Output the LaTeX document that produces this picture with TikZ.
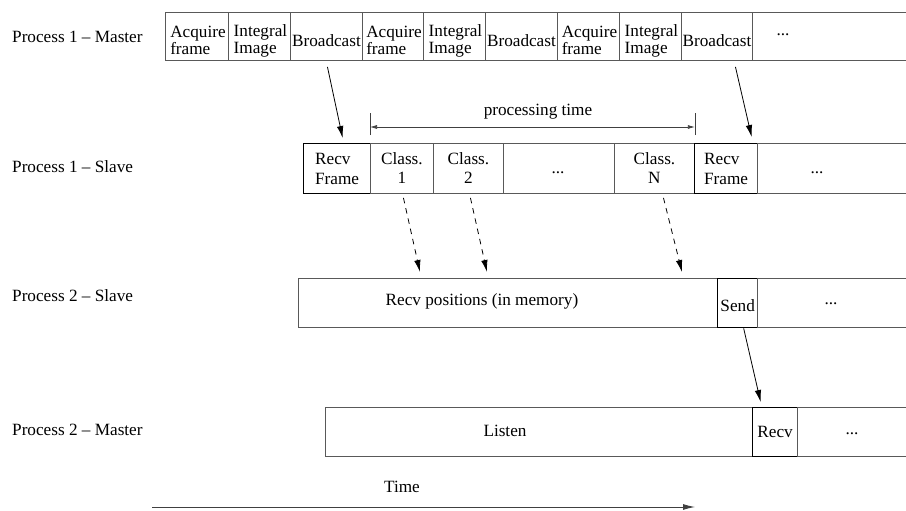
\documentclass[tikz,border=0pt]{standalone}
\usepackage{fontspec}
\setmainfont{Liberation Serif}
\usetikzlibrary{arrows.meta}
\begin{document}
\begin{tikzpicture}[x=1pt,y=-1pt,
  font=\fontsize{17.2}{17}\selectfont,
  cell/.style={draw=black!65, line width=0.9pt, inner sep=0pt, anchor=north west},
  hot/.style={draw=black, line width=1.3pt},
  txt/.style={inner sep=0pt, align=left},
  ctxt/.style={inner sep=0pt, align=center},
  dots/.style={inner sep=0pt, anchor=base},
  lbl/.style={inner sep=0pt, anchor=west},
  flow/.style={-{Latex[length=12pt,width=6.5pt]}, line width=0.8pt},
  msg/.style={-{Latex[length=12pt,width=6.5pt]}, line width=0.8pt, dash pattern=on 5.5pt off 5pt},
  span/.style={{Latex[length=7pt,width=4pt]}-{Latex[length=7pt,width=4pt]}, line width=0.7pt, draw=black!75},
  axis/.style={-{Latex[length=12pt,width=6pt]}, line width=0.9pt, draw=black!75}
]
\useasboundingbox (0,0) rectangle (906,511);

% process labels
\node[lbl] (l1) at (12,37)  {Process 1 -- Master};
\node[lbl] (l2) at (12,167) {Process 1 -- Slave};
\node[lbl] (l3) at (12,296) {Process 2 -- Slave};
\node[lbl] (l4) at (12,430) {Process 2 -- Master};

% Process 1 - Master
\begin{scope}[every node/.append style={minimum height=48pt}]
\node[cell, minimum width=63pt] (m1) at (165,12) {};
\node[cell, minimum width=62pt] (m2) at (228,12) {};
\node[cell, minimum width=72pt] (m3) at (290,12) {};
\node[cell, minimum width=61pt] (m4) at (362,12) {};
\node[cell, minimum width=62pt] (m5) at (423,12) {};
\node[cell, minimum width=72pt] (m6) at (485,12) {};
\node[cell, minimum width=62pt] (m7) at (557,12) {};
\node[cell, minimum width=62pt] (m8) at (619,12) {};
\node[cell, minimum width=71pt] (m9) at (681,12) {};
\node[cell, minimum width=160pt] (m10) at (752,12) {};
\end{scope}
\node[txt] (m1t) at ([xshift=1pt,yshift=-4pt]m1.center) {Acquire\\frame};
\node[txt] (m2t) at ([xshift=1pt,yshift=-4pt]m2.center) {Integral\\Image};
\node[txt] (m3t) at ([yshift=-4pt]m3.center) {Broadcast};
\node[txt] (m4t) at ([xshift=1pt,yshift=-4pt]m4.center) {Acquire\\frame};
\node[txt] (m5t) at ([xshift=1pt,yshift=-4pt]m5.center) {Integral\\Image};
\node[txt] (m6t) at ([yshift=-4pt]m6.center) {Broadcast};
\node[txt] (m7t) at ([xshift=1pt,yshift=-4pt]m7.center) {Acquire\\frame};
\node[txt] (m8t) at ([xshift=1pt,yshift=-4pt]m8.center) {Integral\\Image};
\node[txt] (m9t) at ([yshift=-4pt]m9.center) {Broadcast};
\node[dots] (m10t) at (783,36) {...};

% Process 1 - Slave
\begin{scope}[every node/.append style={minimum height=50pt}]
\node[cell, hot, minimum width=67pt] (s1) at (303,143) {};
\node[cell, minimum width=63pt] (s2) at (370,143) {};
\node[cell, minimum width=70pt] (s3) at (433,143) {};
\node[cell, minimum width=111pt] (s4) at (503,143) {};
\node[cell, minimum width=80pt] (s5) at (614,143) {};
\node[cell, hot, minimum width=63pt] (s6) at (694,143) {};
\node[cell, minimum width=155pt] (s7) at (757,143) {};
\end{scope}
\node[txt] (s1t) at (s1.center) {Recv\\[3pt]Frame};
\node[ctxt] (s2t) at (s2.center) {Class.\\[2pt]1};
\node[ctxt] (s3t) at (s3.center) {Class.\\[2pt]2};
\node[dots] (s4t) at (558,173) {...};
\node[ctxt] (s5t) at (s5.center) {Class.\\[2pt]N};
\node[txt] (s6t) at (s6.center) {Recv\\[3pt]Frame};
\node[dots] (s7t) at (817,173) {...};

% processing time span
\draw[line width=0.7pt, draw=black!75] ([yshift=8pt]s2.north west) -- ++(0,-22);
\draw[line width=0.7pt, draw=black!75] ([yshift=8pt]s5.north east) -- ++(0,-22);
\draw[span] ([yshift=16pt]s2.north west) -- ([yshift=16pt]s5.north east);
\node[ctxt] (pt) at (538,112) {processing time};

% Process 2 - Slave
\begin{scope}[every node/.append style={minimum height=49pt}]
\node[cell, minimum width=419pt] (r1) at (298,278) {};
\node[cell, hot, minimum width=40pt] (r2) at (717,278) {};
\node[cell, minimum width=155pt] (r3) at (757,278) {};
\end{scope}
\node[ctxt] (r1t) at (482,301) {Recv positions (in memory)};
\node[ctxt] (r2t) at ([yshift=-2pt]r2.center) {Send};
\node[dots] (r3t) at (831,304) {...};

% Process 2 - Master
\begin{scope}[every node/.append style={minimum height=49pt}]
\node[cell, minimum width=427pt] (q1) at (325,407) {};
\node[cell, hot, minimum width=45pt] (q2) at (752,407) {};
\node[cell, minimum width=115pt] (q3) at (797,407) {};
\end{scope}
\node[ctxt] (q1t) at (505,431) {Listen};
\node[ctxt] (q2t) at (q2.center) {Recv};
\node[dots] (q3t) at (852,434) {...};

% frame broadcasts
\draw[flow] ([xshift=1pt,yshift=-6pt]m3.south) -- ([xshift=5.5pt,yshift=5pt]s1.north);
\draw[flow] ([xshift=18.5pt,yshift=-6pt]m9.south) -- ([xshift=25.5pt,yshift=6pt]s6.north);

% classifier results
\draw[msg] ([xshift=1.5pt,yshift=-4pt]s2.south) -- ([xshift=122pt,yshift=6pt]r1.north west);
\draw[msg] ([xshift=2pt,yshift=-4pt]s3.south) -- ([xshift=189pt,yshift=6pt]r1.north west);
\draw[msg] ([xshift=9pt,yshift=-4pt]s5.south) -- ([xshift=384pt,yshift=6pt]r1.north west);

% results to master
\draw[flow] ([xshift=6pt]r2.south) -- ([xshift=-14.5pt,yshift=5pt]q2.north);

% time axis
\coordinate (t0) at (152,507);
\coordinate (t1) at (695,507);
\draw[axis] (t0) -- (t1);
\node[ctxt] (tl) at (402,487) {Time};
\end{tikzpicture}
\end{document}
